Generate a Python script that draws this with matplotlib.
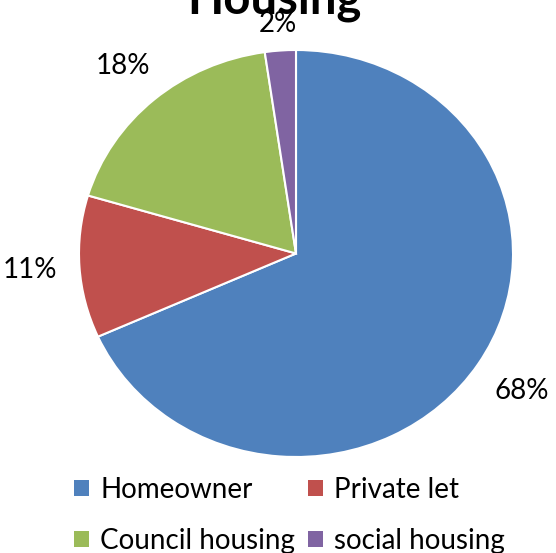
import numpy as np
import matplotlib.pyplot as plt
from matplotlib.patches import Patch

categories = ['Homeowner', 'Private let', 'Council housing', 'social housing']
shares = [68.3, 11.3, 18.1, 2.3]
colors = ['#4F81BD', '#C0504D', '#9BBB59', '#8064A2']
label_dist = [1.24, 1.23, 1.22, 1.13]

plt.rcParams['font.family'] = ['Lato', 'DejaVu Sans']

W, H = 556, 553
fig = plt.figure(figsize=(W / 100, H / 100), dpi=100)

# pie box in pixels (ellipse in the original)
cx, cy, rx, ry = 296, 253.5, 217, 203.5
ax = fig.add_axes([(cx - rx) / W, (H - cy - ry) / H, 2 * rx / W, 2 * ry / H])

wedges, _ = ax.pie(shares, colors=colors, startangle=90, counterclock=False,
                   wedgeprops=dict(edgecolor='white', linewidth=1.5))
ax.set_aspect('auto')
ax.set_xlim(-1, 1)
ax.set_ylim(-1, 1)

total = sum(shares)
for w, v, d in zip(wedges, shares, label_dist):
    mid = np.deg2rad((w.theta1 + w.theta2) / 2)
    ax.text(d * np.cos(mid), d * np.sin(mid), f'{v / total * 100:.0f}%',
            ha='center', va='center', fontsize=20, color='black', clip_on=False)

fig.text(274 / W, 1 - 14 / H, 'Housing', ha='center', va='baseline',
         fontsize=34, fontweight='bold')

# legend fills column by column, so reorder to read row by row
order = [0, 2, 1, 3]
handles = [Patch(facecolor=colors[i], edgecolor='none') for i in order]
fig.legend(handles, [categories[i] for i in order], ncol=2, frameon=False,
           fontsize=20, loc='upper left', bbox_to_anchor=(60 / W, 1 - 463 / H),
           handlelength=0.55, handleheight=0.55, handletextpad=0.4,
           columnspacing=0.45, labelspacing=0.9, borderpad=0)

fig.savefig('out.png', dpi=100)
